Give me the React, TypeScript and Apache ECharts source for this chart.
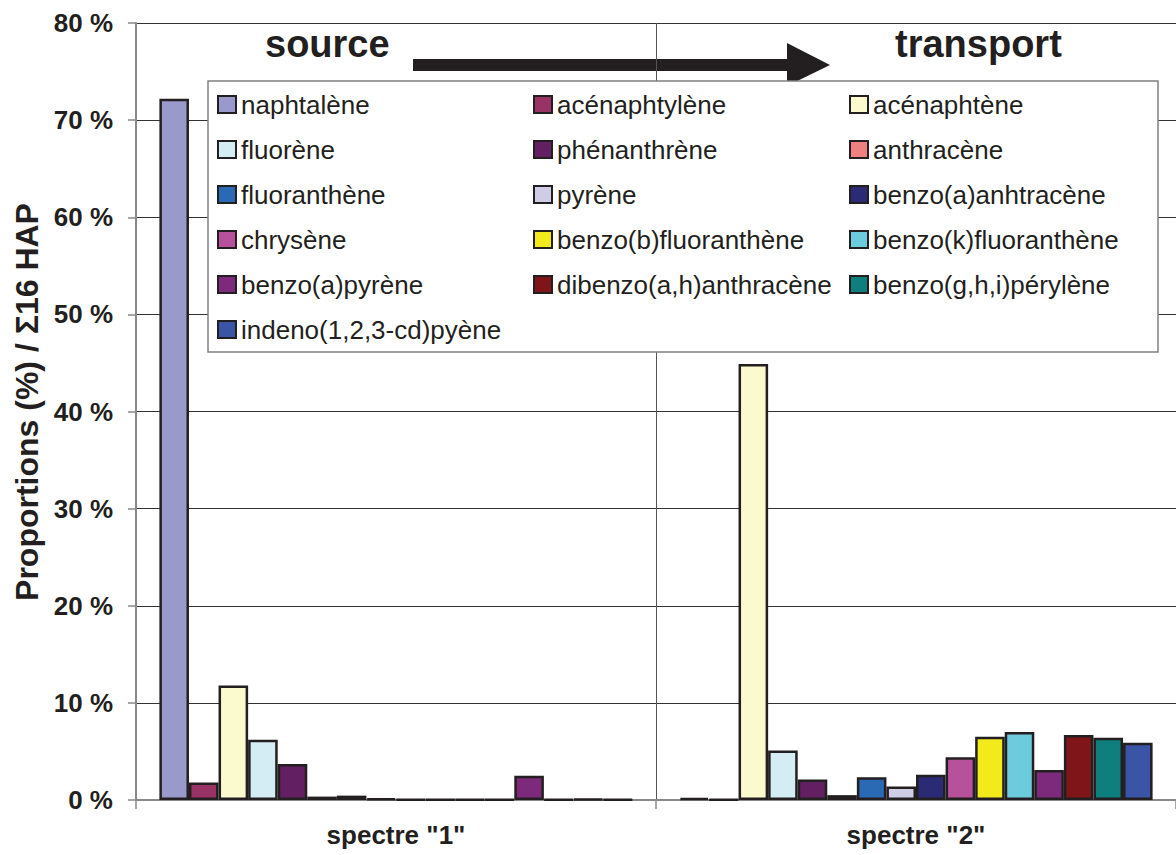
import React, { useEffect, useRef } from "react";
import * as echarts from "echarts";

const categories = ['spectre "1"', 'spectre "2"'];
const seriesNames = [
  "naphtalène",
  "acénaphtylène",
  "acénaphtène",
  "fluorène",
  "phénanthrène",
  "anthracène",
  "fluoranthène",
  "pyrène",
  "benzo(a)anhtracène",
  "chrysène",
  "benzo(b)fluoranthène",
  "benzo(k)fluoranthène",
  "benzo(a)pyrène",
  "dibenzo(a,h)anthracène",
  "benzo(g,h,i)pérylène",
  "indeno(1,2,3-cd)pyène",
];
const spectre1 = [72.2, 1.8, 11.8, 6.2, 3.7, 0.35, 0.45, 0.15, 0.05, 0.05, 0.05, 0.05, 2.5, 0.05, 0.1, 0.05];
const spectre2 = [0.2, 0.05, 44.9, 5.1, 2.1, 0.5, 2.35, 1.4, 2.6, 4.4, 6.5, 7.0, 3.1, 6.7, 6.4, 5.9];
const colors = [
  "#9A99CB",
  "#993366",
  "#FBF9CE",
  "#D4EDF4",
  "#621F61",
  "#F08080",
  "#2A6AB5",
  "#CFCCE6",
  "#2B2A75",
  "#B7519B",
  "#F2EA1A",
  "#6CCBDC",
  "#7D2A7C",
  "#7F1518",
  "#0E7F7D",
  "#3A55A5",
];
const yTicks = { min: 0, max: 80, interval: 10 };

export default function App() {
  const ref = useRef<HTMLDivElement>(null);
  useEffect(() => {
    document.body.style.margin = "0";
    const chart = echarts.init(ref.current!, null, { renderer: "svg" });
    const font = "'Liberation Sans', Arial, sans-serif";
    chart.setOption({
      animation: false,
      backgroundColor: "#ffffff",
      textStyle: { fontFamily: font },
      grid: { left: 136, top: 23, width: 1046, height: 777, containLabel: false },
      legend: {
        left: 208,
        top: 81,
        width: 945,
        orient: "horizontal",
        padding: [6, 3, 5, 9],
        itemGap: 10,
        itemWidth: 18,
        itemHeight: 17,
        icon: "rect",
        selectedMode: false,
        backgroundColor: "#ffffff",
        borderColor: "#808080",
        borderWidth: 1.5,
        borderRadius: 0,
        textStyle: {
          fontFamily: font,
          fontSize: 26,
          color: "#231f20",
          width: 282,
          lineHeight: 35,
        },
        data: seriesNames,
      },
      xAxis: {
        type: "category",
        data: categories,
        axisLine: { show: true, lineStyle: { color: "#888888", width: 2 } },
        axisTick: { show: true, length: 9, lineStyle: { color: "#888888", width: 1.5 } },
        axisLabel: {
          fontFamily: font,
          fontSize: 26,
          fontWeight: "bold",
          color: "#231f20",
          margin: 22,
        },
        splitLine: { show: true, lineStyle: { color: "#555555", width: 1 } },
      },
      yAxis: {
        type: "value",
        min: yTicks.min,
        max: yTicks.max,
        interval: yTicks.interval,
        axisLine: { show: true, lineStyle: { color: "#888888", width: 2 } },
        axisTick: { show: true, length: 8, lineStyle: { color: "#888888", width: 1.5 } },
        axisLabel: {
          formatter: "{value} %",
          fontFamily: font,
          fontSize: 26,
          fontWeight: "bold",
          color: "#231f20",
          margin: 23,
        },
        splitLine: { show: true, lineStyle: { color: "#333333", width: 1 } },
      },
      series: seriesNames.map((name, i) => ({
        name,
        type: "bar",
        barGap: "0%",
        barCategoryGap: "9%",
        data: [spectre1[i], spectre2[i]],
        itemStyle: { color: colors[i], borderColor: "#231f20", borderWidth: 2.5 },
      })),
      graphic: [
        {
          type: "text",
          left: 265,
          top: 25,
          style: { text: "source", font: `bold 38px ${font}`, fill: "#231f20" },
        },
        {
          type: "text",
          left: 895,
          top: 25,
          style: { text: "transport", font: `bold 38px ${font}`, fill: "#231f20" },
        },
        {
          type: "rect",
          shape: { x: 413, y: 59, width: 377, height: 12 },
          style: { fill: "#231f20" },
        },
        {
          type: "polygon",
          shape: { points: [[787, 43], [830, 65], [787, 86]] },
          style: { fill: "#231f20" },
        },
        {
          type: "text",
          x: 27,
          y: 402,
          rotation: Math.PI / 2,
          style: {
            text: "Proportions (%) / Σ16 HAP",
            font: `bold 32px ${font}`,
            fill: "#231f20",
            align: "center",
            verticalAlign: "middle",
          },
        },
      ],
    });
    return () => chart.dispose();
  }, []);
  return <div ref={ref} style={{ width: 1176, height: 855 }} />;
}
